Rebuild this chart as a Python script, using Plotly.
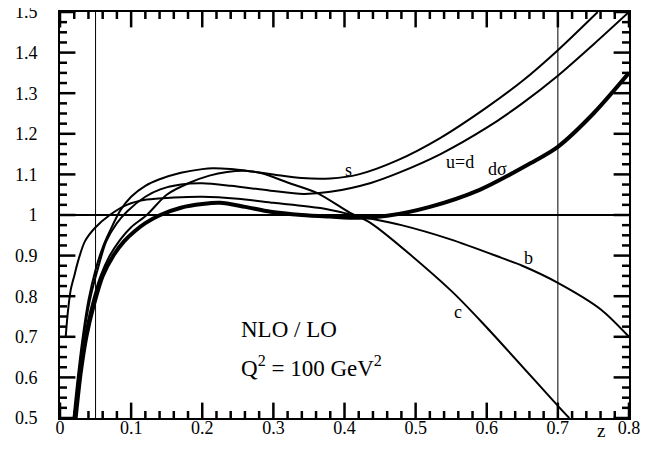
import plotly.graph_objects as go

# ---- data (z, NLO/LO ratio) ----
s_z = [0.019, 0.025, 0.032, 0.04, 0.05, 0.06, 0.07, 0.085, 0.1, 0.12, 0.14, 0.17, 0.2, 0.215, 0.24, 0.27, 0.3, 0.34, 0.38, 0.42, 0.475, 0.535, 0.6, 0.65, 0.7, 0.756]
s_y = [0.5, 0.6, 0.7, 0.79, 0.865, 0.92, 0.96, 1.012, 1.045, 1.072, 1.088, 1.104, 1.113, 1.115, 1.113, 1.107, 1.1, 1.091, 1.09, 1.1, 1.135, 1.19, 1.265, 1.33, 1.406, 1.5]

ud_z = [0.02, 0.026, 0.033, 0.042, 0.052, 0.065, 0.08, 0.095, 0.12, 0.141, 0.17, 0.2, 0.24, 0.296, 0.342, 0.38, 0.437, 0.475, 0.535, 0.6, 0.65, 0.7, 0.75, 0.8]
ud_y = [0.5, 0.6, 0.7, 0.79, 0.86, 0.935, 0.98, 1.01, 1.045, 1.063, 1.075, 1.078, 1.072, 1.06, 1.052, 1.057, 1.079, 1.103, 1.15, 1.215, 1.275, 1.343, 1.42, 1.5]

c_z = [0.021, 0.028, 0.036, 0.045, 0.056, 0.07, 0.085, 0.1, 0.122, 0.15, 0.183, 0.21, 0.235, 0.26, 0.285, 0.32, 0.362, 0.408, 0.437, 0.549, 0.6, 0.7, 0.716]
c_y = [0.5, 0.61, 0.71, 0.78, 0.845, 0.9, 0.94, 0.97, 1.0, 1.05, 1.08, 1.097, 1.106, 1.109, 1.102, 1.08, 1.054, 1.005, 0.98, 0.815, 0.723, 0.53, 0.5]

b_z = [0.008, 0.011, 0.015, 0.02, 0.026, 0.035, 0.049, 0.07, 0.094, 0.122, 0.16, 0.2, 0.25, 0.3, 0.366, 0.42, 0.48, 0.549, 0.62, 0.65, 0.7, 0.76, 0.8]
b_y = [0.70, 0.76, 0.815, 0.85, 0.89, 0.935, 0.968, 1.0, 1.025, 1.038, 1.043, 1.045, 1.04, 1.03, 1.017, 0.997, 0.975, 0.94, 0.895, 0.875, 0.833, 0.768, 0.70]

ds_z = [0.022, 0.029, 0.037, 0.047, 0.06, 0.075, 0.09, 0.105, 0.12, 0.141, 0.17, 0.2, 0.225, 0.26, 0.296, 0.34, 0.38, 0.42, 0.46, 0.52, 0.59, 0.662, 0.7, 0.75, 0.8]
ds_y = [0.5, 0.61, 0.7, 0.775, 0.85, 0.9, 0.935, 0.96, 0.98, 1.0, 1.018, 1.027, 1.03, 1.02, 1.008, 1.0, 0.996, 0.993, 0.998, 1.02, 1.062, 1.128, 1.168, 1.25, 1.35]

curve_labels = ["s", "u=d", "dσ", "b", "c"]
label_pos_z = [0.406, 0.562, 0.615, 0.658, 0.559]
label_pos_y = [1.111, 1.13, 1.113, 0.894, 0.761]

# axis tick positions
x_major = [round(0.1 * i, 2) for i in range(9)]
x_minor = [round(0.02 * i, 2) for i in range(41) if i % 5]
y_major = [round(0.5 + 0.1 * i, 2) for i in range(11)]
y_minor = [round(0.5 + 0.025 * i, 3) for i in range(41) if i % 4]

FONT = "Liberation Serif"

fig = go.Figure()
curves = [(s_z, s_y, 2), (ud_z, ud_y, 2), (c_z, c_y, 2), (b_z, b_y, 2), (ds_z, ds_y, 4)]
for zz, yy, w in curves:
    fig.add_trace(go.Scatter(x=zz, y=yy, mode="lines",
                             line=dict(color="black", width=w, shape="spline", smoothing=0.8),
                             showlegend=False, hoverinfo="skip"))

# inside tick marks on all four sides, drawn as line markers clipped by the plot box
for vals, size in [(x_major, 22), (x_minor, 10)]:
    for edge in (0.5, 1.5):
        fig.add_trace(go.Scatter(x=vals, y=[edge] * len(vals), mode="markers",
                                 marker=dict(symbol="line-ns-open", size=size, color="black",
                                             line=dict(color="black", width=2.5)),
                                 showlegend=False, hoverinfo="skip", cliponaxis=True))
for vals, size in [(y_major, 22), (y_minor, 10)]:
    for edge in (0.0, 0.8):
        fig.add_trace(go.Scatter(x=[edge] * len(vals), y=vals, mode="markers",
                                 marker=dict(symbol="line-ew-open", size=size, color="black",
                                             line=dict(color="black", width=2.5)),
                                 showlegend=False, hoverinfo="skip", cliponaxis=True))

# reference lines
fig.add_shape(type="line", x0=0, x1=0.8, y0=1, y1=1, xref="x", yref="y",
              line=dict(color="black", width=2))
for xv in [0.05, 0.7]:
    fig.add_shape(type="line", x0=xv, x1=xv, y0=0.5, y1=1.5, xref="x", yref="y",
                  line=dict(color="black", width=1))

for t, zx, yv in zip(curve_labels, label_pos_z, label_pos_y):
    fig.add_annotation(x=zx, y=yv, text=t, showarrow=False,
                       font=dict(family=FONT, size=18, color="black"))

fig.add_annotation(x=0.251, y=0.719, text="NLO / LO", showarrow=False, xanchor="left",
                   font=dict(family=FONT, size=23, color="black"))
fig.add_annotation(x=0.251, y=0.628, text="Q<sup>2</sup> = 100 GeV<sup>2</sup>", showarrow=False,
                   xanchor="left", font=dict(family=FONT, size=23, color="black"))
fig.add_annotation(x=0.761, y=-0.032, xref="x", yref="paper", text="z", showarrow=False,
                   yanchor="middle", font=dict(family=FONT, size=19, color="black"))

axis_common = dict(showgrid=False, zeroline=False, showline=True, linecolor="black",
                   linewidth=2, mirror=True, ticks="", tickmode="linear",
                   ticklabeloverflow="allow",
                   tickfont=dict(family=FONT, size=18, color="black"))

fig.update_xaxes(range=[0, 0.8], tick0=0, dtick=0.1, ticklabelstandoff=-8, **axis_common)
fig.update_yaxes(range=[0.5, 1.5], tick0=0.5, dtick=0.1, ticklabelstandoff=17, **axis_common)

# page body has an 8px margin: size/margins chosen so the plot box lands where the reference has it
fig.update_layout(width=659, height=441,
                  margin=dict(l=52, r=38, t=4, b=31, autoexpand=False),
                  plot_bgcolor="white", paper_bgcolor="white")

fig.write_html("out.html")
